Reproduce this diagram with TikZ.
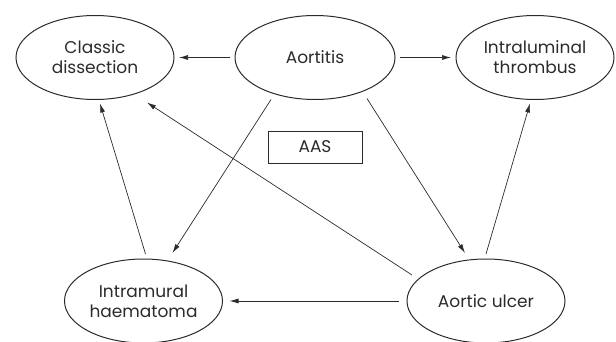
\documentclass[tikz,border=0pt]{standalone}
\usepackage{fontspec}
\setmainfont{Poppins}
\usetikzlibrary{shapes.geometric,arrows.meta,calc}
\definecolor{ink}{HTML}{2B2B2B}
\begin{document}
\begin{tikzpicture}[x=1pt,y=-1pt,
  state/.style={ellipse,draw=ink,line width=1pt,minimum width=158pt,minimum height=84pt,inner sep=0pt,
    align=center,text=ink,font=\fontsize{17}{20}\selectfont},
  boxnode/.style={rectangle,draw=ink,line width=0.9pt,minimum width=94pt,minimum height=32pt,inner sep=0pt,
    text=ink,font=\fontsize{17}{20}\selectfont},
  arr/.style={draw=ink,line width=0.7pt,-{Latex[length=9pt,width=5pt]}}]
\useasboundingbox (0,0) rectangle (616,342);
\node[state] (classic) at (95,57.5) {Classic\\dissection};
\node[state,minimum width=160pt] (aortitis) at (315,57.5) {Aortitis};
\node[state] (thrombus) at (535,57.5) {Intraluminal\\thrombus};
\node[state] (haematoma) at (143.5,301) {Intramural\\haematoma};
\node[state] (ulcer) at (486,301) {Aortic ulcer};
\node[boxnode] (aas) at (315,147) {AAS};
\draw[arr] ($(aortitis)+(-85,0)$) -- ($(classic)+(84,0)$);
\draw[arr] ($(aortitis)+(85,0)$) -- ($(thrombus)+(-84,0)$);
\draw[arr] ($(aortitis)+(-44,42)$) -- ($(haematoma)+(29,-48)$);
\draw[arr] ($(aortitis)+(52,41)$) -- ($(ulcer)+(-21,-48)$);
\draw[arr] ($(ulcer)+(-74,-26)$) -- ($(classic)+(52,45)$);
\draw[arr] ($(haematoma)+(2,-47)$) -- ($(classic)+(5,46)$);
\draw[arr] ($(ulcer)+(-87,0)$) -- ($(haematoma)+(86,0)$);
\draw[arr] ($(ulcer)+(0,-47)$) -- ($(thrombus)+(-5,46)$);
\end{tikzpicture}
\end{document}
